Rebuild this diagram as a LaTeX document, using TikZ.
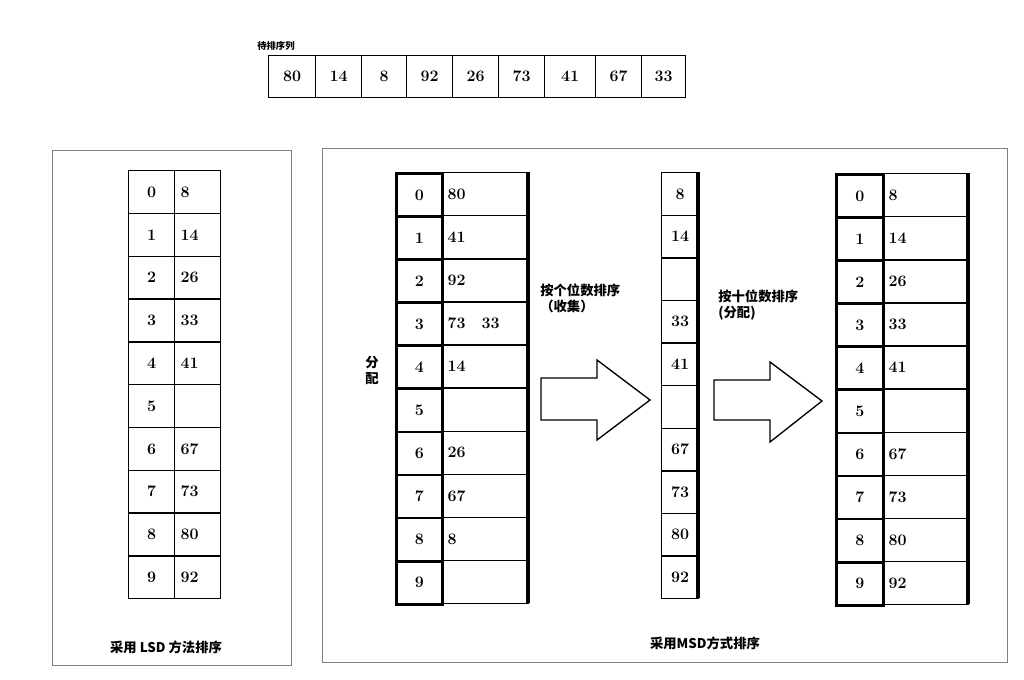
\documentclass[tikz,border=0pt]{standalone}
\usepackage{fontspec}
\newfontfamily\cjk{Noto Sans CJK SC}
\begin{document}
\begin{tikzpicture}
        [x=0.75pt,y=-0.75pt,font=\large\bfseries,
         cell/.style={draw,line width=1pt,anchor=north west,inner sep=0pt},
         thick cell/.style={draw,line width=2pt,anchor=north west,inner sep=0pt},
         value cell/.style={cell,inner xsep=6*0.75pt,align=left},
         panel/.style={draw=black!50,line width=0.6pt},
         big arrow/.style={draw,line width=1pt,fill=white}]
        \useasboundingbox (0,0) rectangle (1024,680);
        % input row
        \node[font=\scriptsize\cjk\bfseries,anchor=south west,inner sep=0pt] (title) at (257,51) {待排序列};
        \foreach \v/\a/\b [count=\i] in {80/268/315,14/315/361,8/361/406,92/406/452,26/452/498,73/498/544,41/544/595,67/595/641,33/641/685}
            \node[cell,minimum width=(\b-\a)*0.75pt,minimum height=42*0.75pt] (in\i) at (\a,55) {\v};

        % LSD panel
        \draw[panel] (52,150) rectangle (291,665);
        \foreach \v [count=\i from 0] in {8,14,26,33,41,{},67,73,80,92} {
            \node[cell,minimum width=46*0.75pt,minimum height=42.8*0.75pt] (lk\i) at (128,170+42.8*\i) {\i};
            \node[value cell,minimum width=46*0.75pt,minimum height=42.8*0.75pt,text width=34*0.75pt] (lv\i) at (174,170+42.8*\i) {\v};
        }
        \node[font=\cjk\bfseries] (lsd) at (166,647) {采用 LSD 方法排序};

        % MSD panel
        \draw[panel] (322,148) rectangle (1007,662);
        \foreach \v [count=\i from 0] in {80,41,92,{73\quad 33},14,{},26,67,8,{}} {
            \node[thick cell,minimum width=46*0.75pt,minimum height=43.1*0.75pt] (ak\i) at (395,172+43.1*\i) {\i};
            \node[value cell,minimum width=87*0.75pt,minimum height=43.1*0.75pt,text width=75*0.75pt] (av\i) at (441,172+43.1*\i) {\v};
        }
        \draw[line width=3pt] (528,172) -- (528,603);
        \foreach \v [count=\i from 0] in {8,14,{},33,41,{},67,73,80,92}
            \node[cell,minimum width=37*0.75pt,minimum height=42.6*0.75pt] (b\i) at (661,172+42.6*\i) {\v};
        \draw[line width=2.5pt] (698,172) -- (698,598);
        \foreach \v [count=\i from 0] in {8,14,26,33,41,{},67,73,80,92} {
            \node[thick cell,minimum width=47*0.75pt,minimum height=43.1*0.75pt] (ck\i) at (835,173+43.1*\i) {\i};
            \node[value cell,minimum width=86*0.75pt,minimum height=43.1*0.75pt,text width=74*0.75pt] (cv\i) at (882,173+43.1*\i) {\v};
        }
        \draw[line width=3pt] (968,173) -- (968,604);
        \node[font=\cjk\bfseries,align=center] (fp) at (372,370) {分\\配};

        % arrows
        \draw[big arrow] (541,378) -- (597,378) -- (597,360) -- (650,400) -- (597,440) -- (597,420) -- (541,420) -- cycle;
        \draw[big arrow] (714,380) -- (770,380) -- (770,362) -- (822,401) -- (770,442) -- (770,420) -- (714,420) -- cycle;
        \node[font=\cjk\bfseries,align=left,anchor=north west,inner sep=0pt] (ones) at (540,284) {按个位数排序\\（收集）};
        \node[font=\cjk\bfseries,align=left,anchor=north west,inner sep=0pt] (tens) at (718,290) {按十位数排序\\(分配)};
        \node[font=\cjk\bfseries] (msd) at (705,643) {采用MSD方式排序};
\end{tikzpicture}
\end{document}
